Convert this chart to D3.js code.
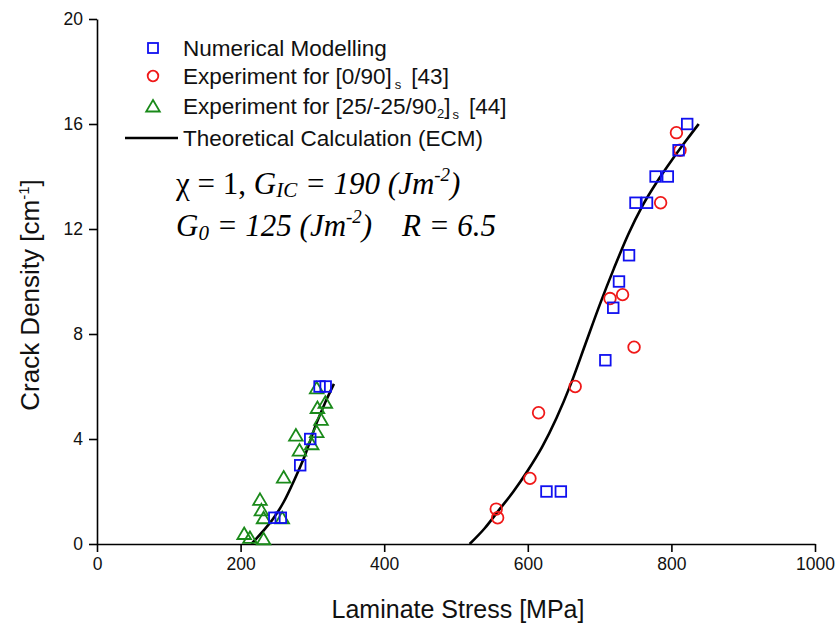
<!DOCTYPE html>
<html><head><meta charset="utf-8">
<script src="https://cdn.jsdelivr.net/npm/d3@7"></script>
<style>body{margin:0;background:#fff}</style>
</head><body>
<svg id="c" width="835" height="631" xmlns="http://www.w3.org/2000/svg"></svg>
<script>
// ---- data ----
const xTicks = [0, 200, 400, 600, 800, 1000];
const yTicks = [0, 4, 8, 12, 16, 20];
const numerical = [[247,1.0],[256,1.0],[283,3.0],[297,4.0],[310,6.0],[318.5,6.0],
  [626,2.0],[646,2.0],[708,7.0],[719,9.0],[727,10.0],[741,11.0],[750,13.0],[766,13.0],
  [778,14.0],[795,14.0],[810,15.0],[822,16.0]];
const exp090 = [[556,1.33],[558,1.0],[603,2.5],[615,5.0],[666,6.0],[714.5,9.35],[732,9.5],
  [748,7.5],[785,13.0],[812,15.0],[807,15.67]];
const exp25 = [[205,0.4],[213,0.25],[232,0.2],[227,1.7],[229,1.3],[232,1.0],[258,1.0],
  [260,2.55],[282,3.58],[277,4.15],[299,3.82],[306,4.28],[312,4.75],[307,5.2],[318,5.4],[306,5.95]];
const theoryLeft = [[215,0],[230,0.45],[245,0.95],[260,1.6],[275,2.45],[290,3.4],[305,4.55],[318,5.4],[330,6.1]];
const theoryRight = [[519,0],[540,0.6],[560,1.3],[580,2.0],[600,2.8],[620,3.7],[640,4.8],[660,6.1],
  [680,7.6],[700,9.1],[720,10.5],[740,11.8],[760,12.9],[780,13.8],[800,14.6],[820,15.35],[838,16.0]];

const svg = d3.select('#c');
const x = d3.scaleLinear().domain([0,1000]).range([97,815]);
const y = d3.scaleLinear().domain([0,20]).range([544,19]);

const sans = "'Liberation Sans', Arial, sans-serif";
const serif = "'Liberation Serif', 'Times New Roman', serif";

// axes
const xAxis = svg.append('g').attr('transform','translate(0,544)')
  .call(d3.axisBottom(x).tickValues(xTicks).tickFormat(d3.format('d')).tickSize(8).tickPadding(6).tickSizeOuter(0));
const yAxis = svg.append('g').attr('transform','translate(97,0)')
  .call(d3.axisLeft(y).tickValues(yTicks).tickFormat(d3.format('d')).tickSize(8).tickPadding(6).tickSizeOuter(0));
[xAxis,yAxis].forEach(a=>{
  a.select('.domain').attr('stroke','#000').attr('stroke-width',1.6);
  a.selectAll('.tick line').attr('stroke','#000').attr('stroke-width',1.6);
  a.selectAll('.tick text').attr('font-family',sans).attr('font-size',17.5).attr('fill','#111');
});

// axis titles
svg.append('text').attr('x',458).attr('y',618).attr('text-anchor','middle')
  .attr('font-family',sans).attr('font-size',25).attr('fill','#111').text('Laminate Stress [MPa]');
const yt = svg.append('text').attr('transform','translate(39,295) rotate(-90)').attr('text-anchor','middle')
  .attr('font-family',sans).attr('font-size',26).attr('fill','#111');
yt.append('tspan').text('Crack Density [cm');
yt.append('tspan').attr('font-size',15).attr('dy',-10).text('-1');
yt.append('tspan').attr('dy',10).text(']');

// theory curves
const line = d3.line().x(d=>x(d[0])).y(d=>y(d[1])).curve(d3.curveMonotoneX);
[theoryLeft, theoryRight].forEach(t=>{
  svg.append('path').attr('d',line(t)).attr('fill','none').attr('stroke','#000').attr('stroke-width',2.6);
});

// markers
const triPath = (cx,cy)=>`M${cx},${cy-6}L${cx+6.8},${cy+5.5}L${cx-6.8},${cy+5.5}Z`;
svg.append('g').selectAll('path').data(exp25).join('path')
  .attr('d',d=>triPath(x(d[0]),y(d[1]))).attr('fill','none').attr('stroke','#1a8a1a').attr('stroke-width',1.8);
svg.append('g').selectAll('circle').data(exp090).join('circle')
  .attr('cx',d=>x(d[0])).attr('cy',d=>y(d[1])).attr('r',5.8)
  .attr('fill','none').attr('stroke','#f01818').attr('stroke-width',1.8);
svg.append('g').selectAll('rect').data(numerical).join('rect')
  .attr('x',d=>x(d[0])-5.3).attr('y',d=>y(d[1])-5.3).attr('width',10.6).attr('height',10.6)
  .attr('fill','none').attr('stroke','#1010f0').attr('stroke-width',1.8);

// legend
const lg = svg.append('g');
const lx = 153, tx = 183, rows = [48, 76, 106, 138];
lg.append('rect').attr('x',lx-5).attr('y',rows[0]-5).attr('width',10).attr('height',10)
  .attr('fill','none').attr('stroke','#1010f0').attr('stroke-width',1.8);
lg.append('circle').attr('cx',lx).attr('cy',rows[1]).attr('r',5.3)
  .attr('fill','none').attr('stroke','#f01818').attr('stroke-width',1.8);
lg.append('path').attr('d',triPath(lx,rows[2])).attr('fill','none').attr('stroke','#1a8a1a').attr('stroke-width',1.8);
lg.append('line').attr('x1',125).attr('x2',178).attr('y1',rows[3]).attr('y2',rows[3]).attr('stroke','#000').attr('stroke-width',2.6);
function ltext(yy){ return lg.append('text').attr('x',tx).attr('y',yy+8).attr('font-family',sans).attr('font-size',22.5).attr('fill','#111'); }
ltext(rows[0]).text('Numerical Modelling');
let t2 = ltext(rows[1]);
t2.append('tspan').text('Experiment for [0/90]');
t2.append('tspan').attr('font-size',13).attr('dx',3).attr('dy',5).text('s');
t2.append('tspan').attr('dy',-5).attr('dx',10).text('[43]');
let t3 = ltext(rows[2]);
t3.append('tspan').text('Experiment for [25/-25/90');
t3.append('tspan').attr('font-size',13).attr('dy',4).text('2');
t3.append('tspan').attr('dy',-4).text(']');
t3.append('tspan').attr('font-size',13).attr('dx',2).attr('dy',5).text('s');
t3.append('tspan').attr('dy',-5).attr('dx',10).text('[44]');
ltext(rows[3]).text('Theoretical Calculation (ECM)');

// annotation
const a1 = svg.append('text').attr('x',176).attr('y',194).attr('font-family',serif).attr('font-size',31).attr('fill','#000');
a1.append('tspan').text('χ = 1, ');
a1.append('tspan').attr('font-style','italic').text('G');
a1.append('tspan').attr('font-style','italic').attr('font-size',21).attr('dy',3).text('IC');
a1.append('tspan').attr('font-style','italic').attr('dy',-3).text(' = 190 (Jm');
a1.append('tspan').attr('font-style','italic').attr('font-size',19).attr('dy',-13).text('-2');
a1.append('tspan').attr('font-style','italic').attr('dy',13).text(')');
const a2 = svg.append('text').attr('x',176).attr('y',236).attr('font-family',serif).attr('font-size',31).attr('font-style','italic').attr('fill','#000');
a2.append('tspan').text('G');
a2.append('tspan').attr('font-size',21).attr('dy',4).text('0');
a2.append('tspan').attr('dy',-4).text(' = 125 (Jm');
a2.append('tspan').attr('font-size',19).attr('dy',-13).text('-2');
a2.append('tspan').attr('dy',13).text(')');
svg.append('text').attr('x',402).attr('y',236).attr('font-family',serif).attr('font-size',31).attr('font-style','italic').attr('fill','#000').text('R = 6.5');
</script>
</body></html>
